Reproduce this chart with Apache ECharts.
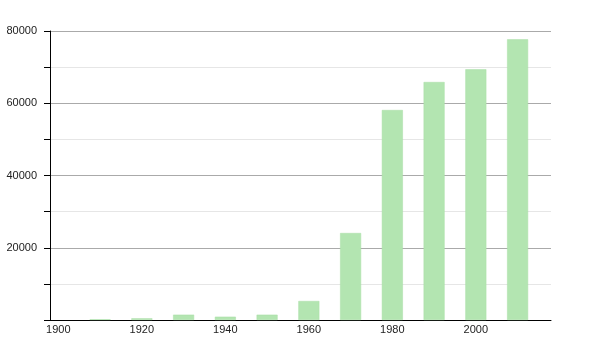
<!DOCTYPE html>
<html><head><meta charset="utf-8">
<script src="https://cdn.jsdelivr.net/npm/echarts@6/dist/echarts.min.js"></script>
<style>html,body{margin:0;padding:0;background:#fff}#c{width:600px;height:350px}</style>
</head><body><div id="c"></div>
<script>
var years = [1910, 1920, 1930, 1940, 1950, 1960, 1970, 1980, 1990, 2000, 2010];
var values = [200, 470, 1470, 910, 1470, 5260, 24080, 58130, 65880, 69400, 77700];
var xTickLabels = [1900, 1920, 1940, 1960, 1980, 2000];
var yMajorLabels = [20000, 40000, 60000, 80000];

var chart = echarts.init(document.getElementById('c'));
chart.setOption({
  animation: false,
  grid: {left: 50, right: 49, top: 31, bottom: 30},
  xAxis: {
    type: 'value', min: 1898, max: 2018,
    axisLine: {show: true, lineStyle: {color: '#000', width: 1}},
    axisTick: {show: false},
    splitLine: {show: false},
    axisLabel: {customValues: xTickLabels, color: '#222', fontSize: 11, fontFamily: 'Liberation Sans, Arial, sans-serif', margin: 4,
      formatter: function (v) { return String(v); }}
  },
  yAxis: {
    type: 'value', min: 0, max: 80000, interval: 10000,
    axisLine: {show: true, lineStyle: {color: '#000', width: 1}},
    axisTick: {show: true, length: 6, lineStyle: {color: '#000'}},
    splitLine: {show: true, lineStyle: {color: ['#aaaaaa', '#e6e6e6'], width: 1}},
    axisLabel: {
      color: '#222', fontSize: 11, fontFamily: 'Liberation Sans, Arial, sans-serif', margin: 13,
      formatter: function (v) { return yMajorLabels.indexOf(v) >= 0 ? String(v) : ''; }
    }
  },
  series: [{
    type: 'bar',
    barWidth: 21,
    data: years.map(function (y, i) { return [y, values[i]]; }),
    itemStyle: {color: '#b3e5b1', borderColor: '#a9dfa7', borderWidth: 0.5}
  }]
});
</script></body></html>
